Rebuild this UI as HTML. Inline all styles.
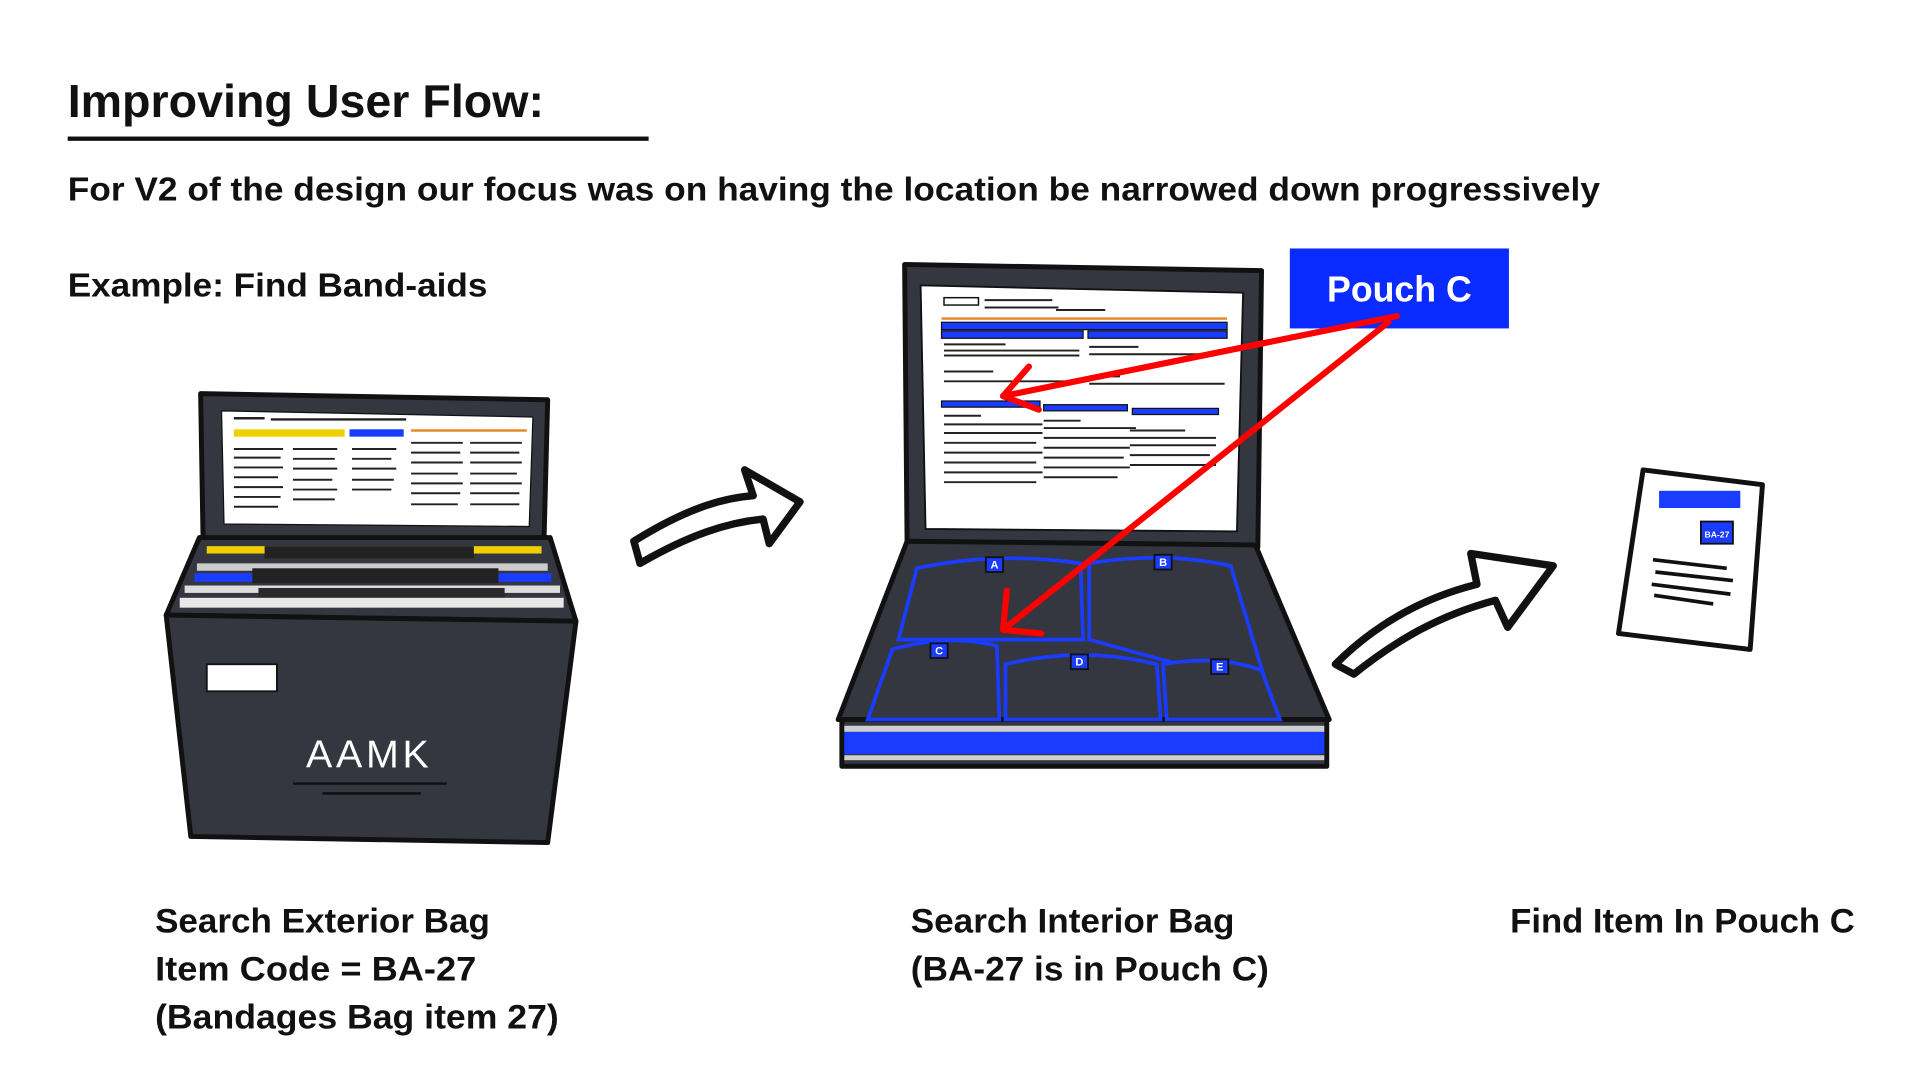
<!DOCTYPE html>
<html><head><meta charset="utf-8"><style>
html,body{margin:0;padding:0;background:#fff;width:1920px;height:1080px;overflow:hidden}
svg{display:block}
text{font-family:"Liberation Sans",sans-serif;font-weight:bold}
</style></head><body>
<svg width="1920" height="1080" viewBox="0 0 1560 878" preserveAspectRatio="none">
<rect width="1560" height="878" fill="#fff"/>
<text x="55" y="95" font-size="38" textLength="387" lengthAdjust="spacingAndGlyphs" fill="#111">Improving User Flow:</text>
<rect x="55" y="111" width="472" height="3.5" fill="#111"/>
<text x="55" y="163" font-size="27" textLength="1245" lengthAdjust="spacingAndGlyphs" fill="#111">For V2 of the design our focus was on having the location be narrowed down progressively</text>
<text x="55" y="241" font-size="27" textLength="341" lengthAdjust="spacingAndGlyphs" fill="#111">Example: Find Band-aids</text>

<!-- exterior bag -->
<g stroke="#111" stroke-width="4" stroke-linejoin="round">
<polygon points="163,320 445,325 442,440 165,440" fill="#343640"/>
<polygon points="180,334 433,339 430,428 182,426" fill="#fff" stroke-width="1"/>
<polygon points="162,437 447,437 468,505 135,500" fill="#343640"/>
<polygon points="135,500 468,505 445,685 155,680" fill="#343640"/>
</g>
<rect x="190" y="349" width="90" height="6" fill="#f0d000"/>
<rect x="284" y="349" width="44" height="6" fill="#1a3cff"/>
<g stroke="#222" stroke-width="2">
<line x1="190" y1="340" x2="215" y2="340"/><line x1="220" y1="341" x2="330" y2="341"/>
<line x1="334" y1="350" x2="428" y2="350" stroke="#e58a2b"/>
</g>
<g stroke="#222" stroke-width="1.6">
<path d="M190 365h40M190 372h38M190 380h40M190 388h36M190 396h40M190 404h38M190 412h36M238 365h36M238 373h34M238 381h36M238 390h32M238 398h36M238 406h34M286 365h36M286 373h32M286 381h36M286 390h34M286 398h32M334 360h42M334 368h40M334 376h42M334 385h38M334 393h42M334 401h40M334 410h38M382 360h42M382 368h40M382 376h42M382 385h38M382 393h42M382 401h40M382 410h40"/>
</g>
<g>
<rect x="168" y="444" width="272" height="6" fill="#f0d000"/>
<rect x="215" y="444" width="170" height="10" fill="#222"/>
<rect x="160" y="458" width="285" height="6" fill="#ccc"/>
<rect x="158" y="466" width="290" height="7" fill="#1a3cff"/>
<rect x="205" y="462" width="200" height="12" fill="#222"/>
<rect x="150" y="476" width="305" height="6" fill="#ddd"/>
<rect x="210" y="478" width="200" height="12" fill="#2a2a2a"/>
<rect x="146" y="486" width="312" height="8" fill="#e8e8e8"/>
</g>
<rect x="168" y="540" width="57" height="22" fill="#fff" stroke="#111" stroke-width="1.5"/>
<text x="300" y="624" font-size="32" fill="#fff" text-anchor="middle" font-weight="normal" style="font-weight:normal" letter-spacing="3">AAMK</text>
<path d="M238 637h125M262 645h80" stroke="#111" stroke-width="2"/>

<!-- arrow 1 -->
<path d="M515 440 C555 415 585 405 612 403 L605 382 L650 408 L625 442 L620 422 C590 425 560 435 520 458 Z" fill="#fff" stroke="#111" stroke-width="6" stroke-linejoin="round"/>

<!-- interior bag -->
<g stroke="#111" stroke-width="4" stroke-linejoin="round">
<polygon points="735,215 1025,220 1022,445 737,442" fill="#343640"/>
<polygon points="748,232 1010,238 1005,432 752,430" fill="#fff" stroke-width="1.5"/>
<polygon points="737,440 1020,443 1080,585 681,585" fill="#343640"/>
<rect x="684" y="585" width="394" height="38" fill="#343640"/>
</g>
<rect x="686" y="590" width="390" height="5" fill="#cfcfcf"/>
<rect x="686" y="595" width="390" height="18" fill="#1a3cff"/>
<rect x="686" y="614" width="390" height="4" fill="#cfcfcf"/>
<rect x="765" y="258" width="232" height="2" fill="#e58a2b"/>
<rect x="765" y="262" width="232" height="6" fill="#1a3cff" stroke="#111" stroke-width="1"/>
<rect x="765" y="269" width="115" height="6" fill="#1a3cff" stroke="#111" stroke-width="1"/>
<rect x="884" y="269" width="113" height="6" fill="#1a3cff" stroke="#111" stroke-width="1"/>
<rect x="765" y="326" width="80" height="5" fill="#1a3cff" stroke="#111" stroke-width="1"/>
<rect x="848" y="329" width="68" height="5" fill="#1a3cff" stroke="#111" stroke-width="1"/>
<rect x="920" y="332" width="70" height="5" fill="#1a3cff" stroke="#111" stroke-width="1"/>
<rect x="767" y="242" width="28" height="6" fill="#fff" stroke="#111" stroke-width="1.2"/>
<g stroke="#222" stroke-width="1.6">
<path d="M800 244h55M800 250h60M858 252h40M767 280h50M767 285h110M767 289h110M885 282h40M885 288h100M767 302h40M767 310h110M885 306h25M885 312h110M767 338h30M767 345h80M767 352h80M767 360h75M767 368h80M767 376h75M767 384h80M767 392h75M848 342h30M848 348h75M848 356h70M848 364h70M848 372h65M848 380h70M848 388h60M918 350h45M918 356h70M918 362h70M918 370h65M918 378h70"/>
</g>
<!-- pouches -->
<g fill="#343640" stroke="#1a3cff" stroke-width="3">
<path d="M745 462 Q810 448 878 458 L880 520 L730 520 Z"/>
<path d="M885 458 Q945 448 1000 460 L1030 560 L885 520 Z"/>
<path d="M725 528 Q770 515 810 525 L812 585 L705 585 Z"/>
<path d="M817 540 Q880 525 940 540 L943 585 L817 585 Z"/>
<path d="M945 540 Q990 532 1025 545 L1040 585 L948 585 Z"/>
</g>
<g fill="#1a3cff" stroke="#111" stroke-width="1.5">
<rect x="801" y="453" width="14" height="12"/><rect x="938" y="451" width="14" height="12"/>
<rect x="756" y="523" width="14" height="12"/><rect x="870" y="532" width="14" height="12"/>
<rect x="984" y="536" width="14" height="12"/>
</g>
<g fill="#fff" font-size="9" text-anchor="middle"><text x="808" y="462">A</text><text x="945" y="460">B</text><text x="763" y="532">C</text><text x="877" y="541">D</text><text x="991" y="545">E</text></g>

<!-- pouch C label -->
<rect x="1048" y="202" width="178" height="65" fill="#0a2bff"/>
<text x="1137" y="245" font-size="29" fill="#fff" text-anchor="middle">Pouch C</text>
<g stroke="#f00" stroke-width="5" fill="none" stroke-linecap="round" stroke-linejoin="round">
<path d="M1135 257 L815 322"/><path d="M836 298 L815 322 L844 333"/>
<path d="M1128 262 L815 512"/><path d="M818 480 L815 512 L846 515"/>
</g>

<!-- arrow 2 -->
<path d="M1085 540 C1120 505 1160 485 1200 475 L1195 450 L1262 460 L1225 510 L1215 488 C1170 500 1135 520 1100 548 Z" fill="#fff" stroke="#111" stroke-width="6" stroke-linejoin="round"/>

<!-- doc -->
<polygon points="1335,382 1432,394 1422,528 1315,515" fill="#fff" stroke="#111" stroke-width="4" stroke-linejoin="round"/>
<rect x="1348" y="399" width="66" height="14" fill="#1a3cff"/>
<rect x="1382" y="424" width="26" height="18" fill="#1a3cff" stroke="#111" stroke-width="1.5"/>
<text x="1395" y="437" font-size="7" fill="#fff" text-anchor="middle">BA-27</text>
<path d="M1343 455 L1403 462 M1345 465 L1408 472 M1342 475 L1406 483 M1344 484 L1392 491" stroke="#111" stroke-width="3"/>

<!-- bottom labels -->
<g font-size="28" fill="#111">
<text x="126" y="758" textLength="272" lengthAdjust="spacingAndGlyphs">Search Exterior Bag</text>
<text x="126" y="797" textLength="261" lengthAdjust="spacingAndGlyphs">Item Code = BA-27</text>
<text x="126" y="836" textLength="328" lengthAdjust="spacingAndGlyphs">(Bandages Bag item 27)</text>
<text x="740" y="758" textLength="263" lengthAdjust="spacingAndGlyphs">Search Interior Bag</text>
<text x="740" y="797" textLength="291" lengthAdjust="spacingAndGlyphs">(BA-27 is in Pouch C)</text>
<text x="1227" y="758" textLength="280" lengthAdjust="spacingAndGlyphs">Find Item In Pouch C</text>
</g>
</svg>
</body></html>
